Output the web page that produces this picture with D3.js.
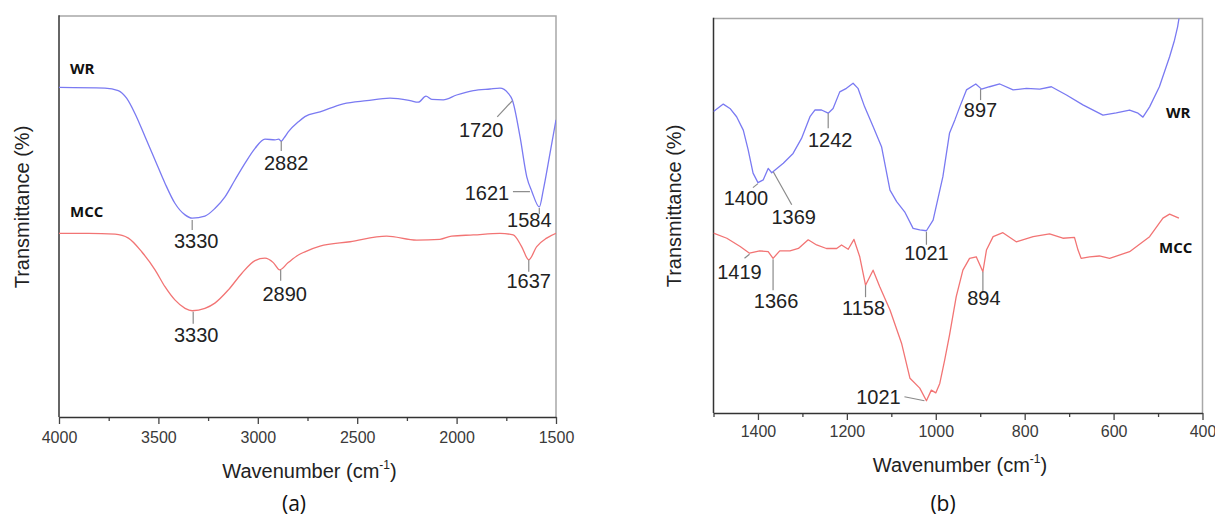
<!DOCTYPE html>
<html>
<head>
<meta charset="utf-8">
<script src="https://cdn.jsdelivr.net/npm/d3@7"></script>
<style>
  body { margin: 0; background: #fff; }
</style>
</head>
<body>
<script>
// FTIR spectra, values (transmittance in arbitrary units, 0-100)
const wrA = [[4000,82.2],[3769,82.0],[3702,81.4],[3660,79.5],[3618,75.7],[3567,69.9],[3517,64.1],[3467,58.3],[3417,53.3],[3366,50.4],[3330,49.6],[3266,50.1],[3216,52.0],[3165,54.9],[3115,59.1],[3064,63.3],[3014,67.0],[2964,69.3],[2913,69.1],[2895,69.3],[2882,68.8],[2868,69.6],[2847,71.1],[2796,73.6],[2763,74.9],[2687,76.1],[2570,78.1],[2452,78.9],[2335,79.5],[2234,78.9],[2193,78.5],[2154,80.0],[2125,79.2],[2067,79.1],[2000,80.3],[1916,81.4],[1832,81.8],[1782,82.0],[1740,80.7],[1720,79.1],[1681,69.9],[1647,59.9],[1621,56.2],[1584,52.4],[1564,56.6],[1530,65.8],[1500,74.1]];
const mccA = [[4000,45.8],[3853,45.8],[3718,45.6],[3651,44.6],[3584,41.2],[3517,36.7],[3467,32.5],[3417,29.2],[3366,27.1],[3330,26.5],[3266,27.1],[3216,28.4],[3148,31.7],[3081,35.8],[3014,39.0],[2964,39.6],[2922,38.5],[2890,36.7],[2847,38.5],[2796,40.4],[2763,41.2],[2687,42.6],[2536,43.7],[2352,45.1],[2201,44.1],[2084,44.3],[2025,45.1],[1916,45.4],[1782,45.8],[1715,45.4],[1673,42.5],[1637,39.2],[1597,42.5],[1547,44.6],[1500,45.8]];
const wrB = [[1500,76.4],[1478,78.3],[1463,77.2],[1448,75.1],[1433,71.7],[1422,66.7],[1411,60.8],[1400,58.4],[1388,59.1],[1377,62.0],[1369,60.9],[1343,63.3],[1321,65.8],[1302,69.6],[1283,75.1],[1272,76.8],[1257,76.8],[1242,76.0],[1231,77.2],[1216,81.4],[1201,82.3],[1186,83.6],[1175,82.3],[1160,77.6],[1141,72.6],[1122,67.5],[1103,56.5],[1088,53.6],[1070,51.0],[1051,46.8],[1036,46.4],[1021,46.2],[1006,48.9],[984,59.9],[969,71.0],[957,74.3],[946,77.6],[931,81.9],[910,83.4],[897,82.1],[879,82.7],[856,83.4],[826,81.9],[796,82.3],[766,82.1],[740,82.7],[706,80.6],[669,78.1],[624,75.5],[594,76.1],[564,76.8],[545,76.0],[534,75.0],[519,77.6],[497,82.7],[474,90.3],[463,94.5],[456,97.9],[450,102]];
const mccB = [[1500,45.6],[1470,44.3],[1440,42.2],[1419,40.5],[1396,41.1],[1377,40.9],[1366,39.2],[1351,41.1],[1328,41.1],[1309,41.7],[1287,43.9],[1268,42.6],[1246,41.7],[1223,41.7],[1212,42.6],[1197,41.5],[1184,44.0],[1171,39.6],[1158,32.4],[1141,36.2],[1126,32.0],[1103,26.1],[1077,17.7],[1058,8.8],[1036,6.3],[1021,3.1],[1010,5.8],[1000,5.1],[991,7.5],[980,13.4],[969,19.8],[954,29.5],[939,36.2],[924,39.2],[909,39.6],[894,35.8],[886,41.3],[871,44.7],[849,45.7],[819,43.4],[781,44.7],[744,45.4],[714,44.3],[688,44.5],[680,41.3],[673,39.2],[654,39.6],[632,39.8],[609,39.2],[564,40.9],[519,44.7],[489,49.4],[474,50.4],[453,49.4]];

// labelled bands (cm-1)
const peaksA_WR = [3330, 2882, 1720, 1621, 1584];
const peaksA_MCC = [3330, 2890, 1637];
const peaksB_WR = [1400, 1369, 1242, 1021, 897];
const peaksB_MCC = [1419, 1366, 1158, 1021, 894];

// axis ticks
const majorA = [4000, 3500, 3000, 2500, 2000, 1500];
const minorA = [3750, 3250, 2750, 2250, 1750];
const majorB = [1400, 1200, 1000, 800, 600, 400];
const minorB = [1500, 1300, 1100, 900, 700, 500];

// label placement (px offsets from the peak point): leader [x1,y1,x2,y2], text [dx,dy]
const layoutA_WR = [{l:[0,2,0,12], t:[4,30]}, {l:[0,0,0,10], t:[5,29]}, {l:[0,1,-15,17], t:[-31,37]}, {l:[-19,0,-2,0], t:[-45,8]}, {l:[0,1,0,7], t:[-10,20]}];
const layoutA_MCC = [{l:[1,1,1,13], t:[4,31]}, {l:[1,0,1,11], t:[5,31]}, {l:[0,0,0,12], t:[0,28]}];
const layoutB_WR = [{l:[0,1,-5,5], t:[-12,22]}, {l:[1.5,-1,20,32], t:[22,51]}, {l:[0,0,0,15], t:[2,34]}, {l:[0,1,0,14], t:[0,29]}, {l:[-1,0,-1,11], t:[-1,28]}];
const layoutB_MCC = [{l:[0,1,-5,5], t:[-10,26]}, {l:[0,1,0,32], t:[3,50]}, {l:[0,0,0,12], t:[-2,30]}, {l:[-22,-4,-2,0], t:[-48,3]}, {l:[0,0,0,20], t:[1,33]}];

const width = 1215;
const height = 517;
const blue = "#7a7af2";
const red = "#f27474";
const numFont = "'Liberation Sans', Arial, sans-serif";

const svg = d3.select("body").append("svg")
    .attr("width", width)
    .attr("height", height)
    .attr("viewBox", [0, 0, width, height]);

function valueAt(data, wn) {
  const hit = data.find(d => d[0] === wn);
  if (hit) return hit[1];
  for (let i = 1; i < data.length; i++) {
    const [a, va] = data[i - 1], [b, vb] = data[i];
    if ((wn - a) * (wn - b) <= 0) return va + (vb - va) * (wn - a) / (b - a);
  }
  return data[0][1];
}

function drawPanel(p) {
  const x = d3.scaleLinear(p.domain, [p.left, p.right]);
  const y = d3.scaleLinear([0, 100], [p.bottom, p.top]);
  const g = svg.append("g");

  g.append("clipPath").attr("id", p.id + "-clip")
    .append("rect")
      .attr("x", p.left).attr("y", p.top)
      .attr("width", p.right - p.left).attr("height", p.bottom - p.top);

  // frame: top/right light grey
  g.append("path")
      .attr("d", `M${p.left},${p.top}H${p.right}V${p.bottom}`)
      .attr("fill", "none")
      .attr("stroke", "#a8a8a8")
      .attr("stroke-width", 1.5);

  // left axis (no ticks)
  g.append("line")
      .attr("x1", p.left).attr("x2", p.left)
      .attr("y1", p.top - 0.75).attr("y2", p.bottom)
      .attr("stroke", "#333")
      .attr("stroke-width", 1.5);

  // bottom axis, minor then major ticks
  g.append("g")
      .attr("transform", `translate(0,${p.bottom})`)
      .call(d3.axisBottom(x).tickValues(p.minor).tickSize(4).tickFormat(""))
      .call(a => a.select(".domain").remove())
      .call(a => a.selectAll("line").attr("stroke", "#444").attr("stroke-width", 1.3));

  g.append("g")
      .attr("transform", `translate(0,${p.bottom})`)
      .call(d3.axisBottom(x).tickValues(p.major).tickFormat(d3.format("d"))
          .tickSize(7).tickSizeOuter(0).tickPadding(p.pad))
      .call(a => a.select(".domain").attr("stroke", "#333").attr("stroke-width", 1.5))
      .call(a => a.selectAll("line").attr("stroke", "#444").attr("stroke-width", 1.3))
      .call(a => a.selectAll("text")
          .attr("font-family", numFont)
          .attr("font-size", 16)
          .attr("fill", "#3a3a3a"));

  // spectra
  const line = d3.line()
      .x(d => x(d[0]))
      .y(d => y(d[1]))
      .curve(p.curve);

  const series = [
    {data: p.wr, color: blue, peaks: p.wrPeaks, lay: p.wrLayout},
    {data: p.mcc, color: red, peaks: p.mccPeaks, lay: p.mccLayout}
  ];

  g.append("g")
      .attr("clip-path", `url(#${p.id}-clip)`)
    .selectAll("path")
    .data(series)
    .join("path")
      .attr("fill", "none")
      .attr("stroke", s => s.color)
      .attr("stroke-width", 1.3)
      .attr("stroke-linejoin", "round")
      .attr("d", s => line(s.data));

  // peak labels with leader lines
  series.forEach(s => {
    s.peaks.forEach((wn, i) => {
      const px = x(wn), py = y(valueAt(s.data, wn));
      const L = s.lay[i];
      g.append("line")
          .attr("x1", px + L.l[0]).attr("y1", py + L.l[1])
          .attr("x2", px + L.l[2]).attr("y2", py + L.l[3])
          .attr("stroke", "#8a8a8a")
          .attr("stroke-width", 1.2);
      g.append("text")
          .attr("x", px + L.t[0])
          .attr("y", py + L.t[1])
          .attr("text-anchor", "middle")
          .attr("font-family", numFont)
          .attr("font-size", 20)
          .attr("fill", "#222")
          .text(wn);
    });
  });

  // series names
  p.names.forEach(n => {
    g.append("text")
        .attr("x", n.x).attr("y", n.y)
        .attr("font-family", "'Open Sans', sans-serif")
        .attr("font-weight", 700)
        .attr("font-size", 15)
        .attr("fill", "#111")
        .text(n.text);
  });

  // axis titles
  const xt = g.append("text")
      .attr("x", (p.left + p.right) / 2 + 2)
      .attr("y", p.xTitleY)
      .attr("text-anchor", "middle")
      .attr("font-family", numFont)
      .attr("font-size", 20)
      .attr("fill", "#222");
  xt.append("tspan").text("Wavenumber (cm");
  xt.append("tspan").attr("font-size", 12).attr("dy", -9).text("-1");
  xt.append("tspan").attr("dy", 9).text(")");

  g.append("text")
      .attr("transform", `translate(${p.yTitleX},${p.yTitleY}) rotate(-90)`)
      .attr("text-anchor", "middle")
      .attr("font-family", numFont)
      .attr("font-size", 20)
      .attr("fill", "#222")
      .text("Transmittance (%)");

  g.append("text")
      .attr("x", p.tagX).attr("y", 511)
      .attr("text-anchor", "middle")
      .attr("font-family", "'Open Sans', sans-serif")
      .attr("font-size", 21)
      .attr("fill", "#111")
      .text(p.tag);
}

drawPanel({
  id: "a", domain: [4000, 1500], left: 59, right: 556, top: 16, bottom: 417,
  major: majorA, minor: minorA, pad: 8, curve: d3.curveMonotoneX,
  wr: wrA, mcc: mccA, wrPeaks: peaksA_WR, mccPeaks: peaksA_MCC,
  wrLayout: layoutA_WR, mccLayout: layoutA_MCC,
  names: [{text: "WR", x: 70, y: 74}, {text: "MCC", x: 70, y: 217}],
  xTitleY: 478, yTitleX: 29, yTitleY: 207, tag: "(a)", tagX: 294
});

drawPanel({
  id: "b", domain: [1500, 400], left: 713.5, right: 1202.5, top: 18.5, bottom: 413,
  major: majorB, minor: minorB, pad: 6, curve: d3.curveLinear,
  wr: wrB, mcc: mccB, wrPeaks: peaksB_WR, mccPeaks: peaksB_MCC,
  wrLayout: layoutB_WR, mccLayout: layoutB_MCC,
  names: [{text: "WR", x: 1166, y: 118}, {text: "MCC", x: 1159, y: 253}],
  xTitleY: 472, yTitleX: 681, yTitleY: 206, tag: "(b)", tagX: 943
});
</script>
</body>
</html>
